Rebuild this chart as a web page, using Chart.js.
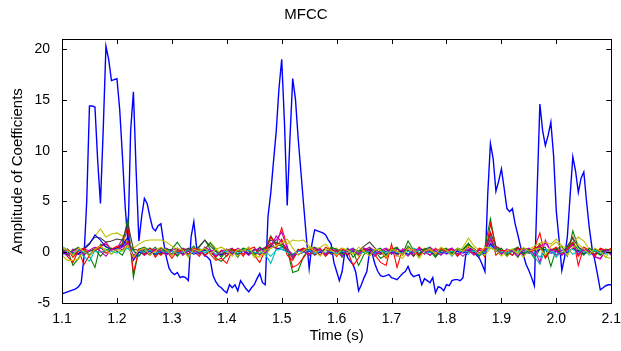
<!DOCTYPE html>
<html>
<head>
<meta charset="utf-8">
<script src="https://cdn.jsdelivr.net/npm/chart.js@4"></script>
<style>body{margin:0;background:#fff}</style>
</head>
<body>
<canvas id="myChart" width="621" height="351"></canvas>
<script>
// time grid (s): first coefficient is sampled finer than the others
var tStart = 1.1;
var dtC0 = 0.005;
var dtCoef = 0.01;

var xTicks = [1.1, 1.2, 1.3, 1.4, 1.5, 1.6, 1.7, 1.8, 1.9, 2, 2.1];
var yTicks = [-5, 0, 5, 10, 15, 20];

// coefficient 0 (big blue line)
var c0 = [
  -4.1,-4.0,-3.9,-3.8,-3.7,-3.6,-3.4,-3.0,-0.5,5.0,
  14.4,14.4,14.3,9.0,4.8,12.0,20.3,19.0,16.9,17.0,
  17.1,14.1,9.5,4.5,1.0,12.0,15.8,8.0,1.1,3.5,
  5.3,4.8,3.5,2.4,2.1,2.6,2.8,1.0,-0.5,-1.6,
  -2.0,-2.2,-2.0,-2.5,-2.4,-2.5,-2.8,1.5,3.0,0.5,
  0.1,0.0,-0.3,-0.5,-0.8,-2.3,-2.9,-3.3,-3.5,-3.8,
  -4.0,-3.2,-3.5,-3.2,-3.8,-2.8,-3.2,-3.6,-3.9,-3.5,
  -3.2,-2.6,-2.1,-3.0,-3.2,3.5,5.8,8.9,11.9,16.1,
  19.0,12.8,4.6,11.2,17.1,15.1,11.2,7.9,4.6,1.4,
  -1.6,0.8,2.2,2.1,2.0,1.9,1.7,1.2,0.8,-1.0,
  -1.9,-2.8,-1.9,0.1,-0.5,-0.9,-1.2,-2.0,-3.8,-3.2,
  -2.5,-1.9,0.1,-0.2,-1.2,-1.9,-2.3,-2.4,-2.3,-2.2,
  -2.5,-2.6,-2.7,-2.4,-2.1,-1.9,-1.4,-2.1,-2.4,-2.3,
  -2.2,-3.2,-2.6,-2.8,-3.0,-2.5,-4.0,-3.4,-3.5,-3.8,
  -3.2,-3.3,-2.8,-2.7,-2.7,-2.8,-2.5,-0.3,0.1,0.4,
  0.0,-0.3,-0.6,-1.2,-1.9,5.6,10.7,9.2,6.0,7.0,
  8.2,6.3,4.3,4.0,4.3,2.8,1.7,0.5,-0.3,-1.2,
  -1.8,-2.5,-3.3,6.0,14.6,12.0,10.5,11.5,12.8,9.5,
  4.0,1.2,-1.8,-0.5,1.5,5.5,9.4,8.0,5.9,7.3,
  7.9,5.0,2.4,0.4,-0.8,-2.2,-3.7,-3.5,-3.3,-3.2,
  -3.2
];

// coefficients 1..12
var c1 = [0.5,0.2,-1.3,-0.6,0.3,-0.4,-1.5,0.8,0.6,0.2, 0.4,0.9,3.3,-2.5,0.3,0.5,0.1,-0.3,0.4,0.2, 0.3,1.0,0.2,-0.4,0.1,0.6,1.2,0.3,-0.6,-0.9, -0.3,0.2,-0.5,0.3,0.1,-0.2,0.4,0.2,1.6,0.8, 0.6,0.3,-2.0,-1.8,-0.4,0.3,0.5,0.2,-0.3,0.4, 0.2,-0.5,0.3,0.1,-1.3,-0.2,0.4,0.1,-0.6,-0.3, 0.3,0.5,-0.2,1.1,0.2,-0.4,0.3,0.1,-0.5,0.2, 0.4,-0.3,0.2,0.3,0.9,0.1,-0.4,0.5,3.3,0.4, -0.2,0.3,0.1,-0.5,0.4,0.2,-0.6,0.3,0.5,-1.4, 0.3,0.6,-0.4,2.1,0.5,-0.2,0.3,0.1,-0.3,0.2, 0.3];
var c2 = [0.3,-0.4,-1.0,0.2,-1.2,-0.3,0.4,0.6,0.8,0.3, 0.5,0.7,2.5,-2.0,0.2,-0.3,0.4,-0.5,0.2,0.1, -0.3,0.4,-0.2,0.3,0.1,-0.4,0.5,-0.2,-0.8,-0.6, -1.1,0.2,0.3,-0.4,0.5,-0.3,-1.0,0.2,1.5,0.7, 2.4,0.6,-1.5,-1.2,-0.5,0.2,0.4,-0.3,0.5,0.2, -0.4,0.3,0.1,-1.3,-0.6,0.4,0.2,-0.3,-1.0,-1.3, 0.8,-1.5,0.3,0.2,-0.4,0.5,0.1,-0.3,0.4,-0.2, 0.2,0.4,-0.3,0.1,0.5,-0.2,0.3,-0.5,2.8,0.6, 0.3,-0.4,0.2,0.5,-0.3,0.1,0.4,1.9,-0.5,0.3, 0.2,-0.3,0.4,1.5,-1.3,0.5,0.2,-0.4,0.3,0.1, 0.4];
var c3 = [0.6,0.2,-0.3,0.1,-0.4,-0.9,0.2,0.4,0.3,-0.2, 0.3,0.5,1.2,0.1,-0.3,0.2,0.4,-0.2,0.1,0.3, -0.2,0.1,0.3,-0.3,0.2,0.4,-0.1,0.2,-0.4,0.1, 0.3,-0.2,0.1,0.4,-0.3,0.2,0.1,-0.2,-1.1,0.3, 0.5,0.2,-0.4,0.1,0.3,-0.2,0.4,0.1,-0.3,0.2, 0.1,-0.3,0.2,0.4,-0.2,0.1,0.3,-0.4,0.2,0.1, -0.2,0.3,0.1,-0.3,0.4,0.2,-0.1,0.3,-0.2,0.1, 0.2,-0.4,0.3,0.1,-0.2,0.4,-0.3,0.2,1.5,0.3, 0.1,-0.2,0.3,0.2,-0.3,0.1,-0.4,-1.2,0.3,0.2, -0.5,0.2,0.4,-0.2,0.1,0.3,-0.3,0.2,0.1,-0.2, 0.2];
var c4 = [0.2,-0.4,0.3,-0.2,0.4,0.1,0.3,0.5,1.0,0.2, 0.4,1.3,0.6,-0.5,0.2,-0.3,0.1,0.3,-0.2,0.4, 0.1,-0.3,0.4,0.2,-0.1,0.3,-0.4,0.2,0.1,-0.3, 0.2,0.4,-0.2,0.1,0.3,-0.3,0.2,0.5,0.8,1.2, 2.0,0.4,-0.6,0.2,0.3,-0.2,0.1,0.4,-0.3,0.2, 0.3,-0.2,0.1,0.4,-0.3,0.2,0.5,0.1,-0.2,0.3, 0.1,-0.4,0.3,0.2,-0.2,0.4,0.1,-0.3,0.2,0.3, -0.2,0.3,0.1,-0.4,0.2,0.3,-0.1,0.4,0.9,0.2, 0.3,-0.2,0.1,0.4,-0.3,0.2,0.3,-1.0,1.2,0.1, -0.3,0.2,0.4,0.8,-0.2,0.3,0.1,-0.4,-0.7,0.2, -0.3];
var c5 = [-0.3,-0.8,-0.8,-0.7,0.2,0.8,1.6,2.3,1.5,1.8, 1.9,1.6,0.9,0.4,0.8,1.1,1.2,1.2,1.2,1.0, 0.6,0.2,-0.3,0.1,0.4,0.3,0.2,1.0,0.4,-0.2, 0.3,0.1,-0.4,0.2,0.3,-0.5,0.1,-0.3,0.4,0.6, 1.2,0.8,1.2,1.1,1.2,0.6,0.3,0.5,0.8,0.2, 0.4,-0.2,0.3,0.1,-0.4,0.2,0.3,-0.3,0.1,0.4, 0.2,-0.3,-0.6,0.1,0.3,-0.2,0.4,0.2,-0.1,0.3, 0.1,0.3,-0.2,0.5,1.4,0.6,0.2,-0.3,0.4,0.2, 0.3,-0.4,0.2,0.1,-0.5,0.3,0.6,0.9,1.0,0.8, 1.3,0.6,0.4,1.0,1.5,1.1,0.3,-0.2,0.1,-0.5, -0.6];
var c6 = [0.1,0.3,-0.2,0.2,0.4,0.9,1.5,1.4,1.0,1.1, 1.3,1.2,2.8,0.3,0.2,0.1,-0.3,0.2,0.4,0.1, -0.2,0.3,0.1,0.4,0.2,0.5,1.2,0.6,0.1,-0.3, 0.2,-0.1,0.3,0.1,-0.2,0.3,0.2,0.4,1.2,0.9, 0.8,0.3,-0.2,0.1,0.4,0.2,-0.3,0.1,0.3,-0.2, 0.1,0.2,-0.3,0.3,0.1,0.6,1.0,0.4,-0.2,0.1, 0.3,-0.2,0.1,0.2,-0.4,0.2,0.3,0.1,-0.2,0.4, 0.2,-0.1,0.3,0.2,0.7,0.3,-0.2,0.1,2.0,0.5, 0.2,0.1,-0.3,0.4,0.2,-0.1,0.3,0.5,0.2,0.1, 0.4,-0.2,0.6,1.4,0.5,0.2,-0.1,0.3,0.1,0.2, 0.1];
var c7 = [-0.2,-0.1,0.0,-0.2,0.3,0.8,1.7,1.2,0.5,0.3, 0.4,0.6,1.5,-0.8,0.0,-0.1,0.1,-0.2,0.0,-0.1, -0.2,0.0,-0.1,0.1,-0.2,0.0,0.2,-0.1,-0.3,-0.2, -0.1,0.0,-0.2,0.1,-0.1,0.0,-0.2,0.0,0.6,0.4, 0.3,0.1,-0.3,-0.2,0.0,0.1,-0.1,0.0,-0.2,0.0, -0.1,0.0,-0.2,0.1,-0.1,0.0,0.3,-0.1,0.0,-0.2, 0.0,-0.1,0.1,-0.2,0.0,-0.1,0.1,0.0,-0.2,0.0, -0.1,0.0,0.1,-0.1,0.2,0.0,-0.2,-0.1,0.8,0.2, 0.0,-0.1,0.1,-0.2,0.0,0.1,-0.1,0.3,0.2,-0.1, 0.1,-0.2,0.0,0.4,0.1,-0.1,0.0,-0.2,0.1,0.0, -0.1];
var c8 = [0.4,-0.3,0.2,0.5,-0.2,0.1,0.3,-0.4,0.2,0.4, 0.1,-0.3,0.8,0.2,-0.4,0.3,0.1,0.5,-0.2,0.3, 0.2,-0.4,0.3,0.1,0.6,-0.2,0.3,0.9,0.2,-0.5, 0.1,0.3,-0.2,0.4,0.2,-0.3,0.5,0.1,0.7,1.0, 0.6,0.2,-0.5,0.3,0.1,-0.3,0.4,0.2,-0.2,0.5, 0.3,-0.2,0.4,-0.5,0.1,0.3,-0.2,0.2,0.4,-0.3, 0.2,0.4,-0.3,0.6,0.1,-0.2,0.3,0.5,-0.4,0.2, 0.3,-0.1,0.4,0.2,0.8,0.3,-0.3,0.2,1.2,0.1, 0.4,-0.3,0.2,0.5,-0.2,0.3,0.1,0.8,-0.4,0.2, 0.3,-0.2,0.5,1.0,0.2,-0.3,0.4,0.1,-0.2,0.3, 0.2];
var c9 = [-0.2,0.3,-0.5,0.1,0.4,-0.3,0.2,0.5,-0.1,0.3, 0.6,0.2,1.1,-0.6,0.3,-0.2,0.4,0.1,-0.3,0.2, -0.6,0.1,0.3,-0.2,0.4,0.2,-0.3,0.1,-0.5,0.2, -0.4,0.3,0.1,-0.2,0.3,0.5,-0.3,0.2,0.9,0.4, 1.3,-0.3,-0.8,0.2,0.4,-0.2,0.1,0.3,-0.4,0.2, 0.1,0.4,-0.3,0.2,-0.1,0.3,0.2,-0.4,0.1,-0.6, 0.3,0.1,-0.2,0.4,0.2,-0.3,0.1,0.3,-0.2,0.4, 0.1,0.3,-0.4,0.2,0.1,-0.2,0.4,0.2,1.8,-0.3, 0.2,0.1,-0.3,0.4,0.2,-0.1,0.3,0.7,-0.6,0.2, 0.5,-0.2,0.3,0.9,-0.4,0.2,0.1,-0.3,0.4,0.2, 0.3];
var c10 = [0.0,0.1,-0.1,0.2,0.0,-0.2,0.1,0.0,0.2,0.1, -0.1,0.2,0.4,-0.3,0.1,0.0,0.2,-0.1,0.1,0.0, 0.1,-0.1,0.0,0.2,-0.1,0.1,0.0,0.2,-0.2,0.0, 0.1,0.0,-0.1,0.1,0.2,0.0,-0.1,0.1,-0.4,0.2, 0.3,0.0,-0.2,0.1,0.0,0.2,-0.1,0.1,0.0,0.1, -0.1,0.1,0.0,0.2,-0.1,0.0,0.1,-0.2,0.1,0.0, 0.1,0.0,-0.1,0.1,0.0,0.2,-0.1,0.0,0.1,-0.1, 0.0,0.1,-0.1,0.2,0.0,0.1,-0.2,0.0,0.6,0.1, 0.0,-0.1,0.1,0.0,0.2,-0.1,0.0,-0.5,0.2,0.1, -0.2,0.0,0.1,0.3,-0.1,0.1,0.0,0.2,-0.1,0.0, 0.1];
var c11 = [0.3,-0.2,0.1,0.4,-0.3,0.2,0.5,0.1,-0.4,0.3, 0.2,0.5,0.9,-0.3,0.1,0.4,-0.2,0.3,0.1,-0.3, 0.2,0.4,-0.3,0.1,0.3,-0.2,0.5,0.2,-0.4,0.1, 0.3,-0.2,0.4,0.1,-0.3,0.2,0.4,-0.1,0.5,1.6, 1.0,0.3,-0.4,0.2,0.1,-0.3,0.4,0.2,-0.2,0.3, 0.1,-0.4,0.3,0.2,-0.2,0.4,0.1,-0.3,0.2,0.4, -0.2,0.3,0.1,-0.4,0.2,0.3,-0.2,0.5,0.1,-0.3, 0.2,0.4,-0.2,0.1,0.3,-0.3,0.2,0.1,1.3,0.2, -0.2,0.3,0.1,-0.4,0.2,0.4,-0.3,0.6,0.9,0.2, 0.1,-0.3,0.2,0.7,-0.2,0.3,0.1,-0.5,-0.6,0.2, 0.1];
var c12 = [0.5,0.2,-0.3,0.4,0.1,-0.4,0.3,0.6,0.2,-0.2, 0.3,0.1,0.7,-0.5,0.2,0.4,-0.3,0.1,0.5,0.2, -0.3,0.4,0.2,-0.5,0.3,0.1,0.4,-0.2,0.3,0.5, 0.2,-0.4,0.3,0.1,0.5,-0.3,-0.5,0.2,0.4,0.6, 0.9,1.3,0.4,-0.3,0.2,0.5,0.1,-0.4,0.3,0.2, -0.3,0.4,0.2,-0.2,0.5,0.1,-0.4,0.3,0.2,-0.5, 0.3,0.1,-0.3,0.4,0.2,-0.6,0.1,0.3,-0.2,0.5, 0.2,-0.3,0.4,0.1,0.6,0.3,-0.2,0.5,0.4,0.2, -0.4,0.2,0.3,-0.2,0.5,0.1,0.3,0.4,-0.3,0.6, 1.0,0.4,-0.3,0.5,0.8,0.3,-0.2,0.4,0.1,-0.5, 0.3];

var coefs = [c0, c1, c2, c3, c4, c5, c6, c7, c8, c9, c10, c11, c12];
// matlab's old default line colour order b g r c m y k
var colors = ['#0000ff', '#008000', '#ff0000', '#00bfbf', '#bf00bf', '#bfbf00', '#404040'];

function toPoints(vals, dt) {
  var pts = [];
  for (var i = 0; i < vals.length; i++) {
    pts.push({ x: tStart + i * dt, y: vals[i] });
  }
  return pts;
}

var datasets = [];
for (var k = 0; k < coefs.length; k++) {
  datasets.push({
    data: toPoints(coefs[k], k === 0 ? dtC0 : dtCoef),
    borderColor: colors[k % colors.length],
    borderWidth: k === 0 ? 1.4 : 1.1,
    pointRadius: 0,
    tension: 0,
    fill: false,
    order: coefs.length - k   // later lines drawn on top, like plot()
  });
}

// box round the axes with inward ticks on all four sides
var boxPlugin = {
  id: 'box',
  afterDraw: function(chart) {
    var ctx = chart.ctx, a = chart.chartArea;
    var xs = chart.scales.x, ys = chart.scales.y;
    var L = 5;
    ctx.save();
    ctx.strokeStyle = '#000';
    ctx.lineWidth = 1;
    ctx.beginPath();
    xTicks.forEach(function(v) {
      var px = Math.round(xs.getPixelForValue(v)) + 0.5;
      ctx.moveTo(px, a.bottom); ctx.lineTo(px, a.bottom - L);
      ctx.moveTo(px, a.top); ctx.lineTo(px, a.top + L);
    });
    yTicks.forEach(function(v) {
      var py = Math.round(ys.getPixelForValue(v)) + 0.5;
      ctx.moveTo(a.left, py); ctx.lineTo(a.left + L, py);
      ctx.moveTo(a.right, py); ctx.lineTo(a.right - L, py);
    });
    ctx.stroke();
    ctx.strokeRect(Math.round(a.left) + 0.5, Math.round(a.top) + 0.5,
      Math.round(a.right - a.left), Math.round(a.bottom - a.top));
    ctx.restore();
  }
};

var font = "'Liberation Sans', Arial, sans-serif";
Chart.defaults.font.family = font;
Chart.defaults.color = '#000';

var ctx = document.getElementById('myChart').getContext('2d');
var chart = new Chart(ctx, {
  type: 'line',
  data: { datasets: datasets },
  plugins: [boxPlugin],
  options: {
    responsive: false,
    animation: false,
    devicePixelRatio: 1,
    layout: { padding: { left: 0, right: 9, top: 0, bottom: 0 } },
    plugins: {
      legend: { display: false },
      tooltip: { enabled: false },
      title: {
        display: true,
        text: 'MFCC',
        color: '#000',
        font: { size: 15, weight: 'normal' },
        padding: { top: 6, bottom: 15 }
      }
    },
    scales: {
      x: {
        type: 'linear',
        min: 1.1,
        max: 2.1,
        grid: { display: false },
        border: { display: false },
        afterBuildTicks: function(s) { s.ticks = xTicks.map(function(v) { return { value: v }; }); },
        afterFit: function(s) { s.height = 48; },
        ticks: { font: { size: 14 }, color: '#000', padding: 0, maxRotation: 0, autoSkip: false },
        title: { display: true, text: 'Time (s)', font: { size: 15 }, color: '#000', padding: { top: 0, bottom: 6 } }
      },
      y: {
        min: -5,
        max: 21,
        grid: { display: false },
        border: { display: false },
        afterBuildTicks: function(s) { s.ticks = yTicks.map(function(v) { return { value: v }; }); },
        afterFit: function(s) { s.width = 62; },
        ticks: { font: { size: 14 }, color: '#000', padding: 4 },
        title: { display: true, text: 'Amplitude of Coefficients', font: { size: 15 }, color: '#000', padding: { top: 9, bottom: 0 } }
      }
    }
  }
});
</script>
</body>
</html>
